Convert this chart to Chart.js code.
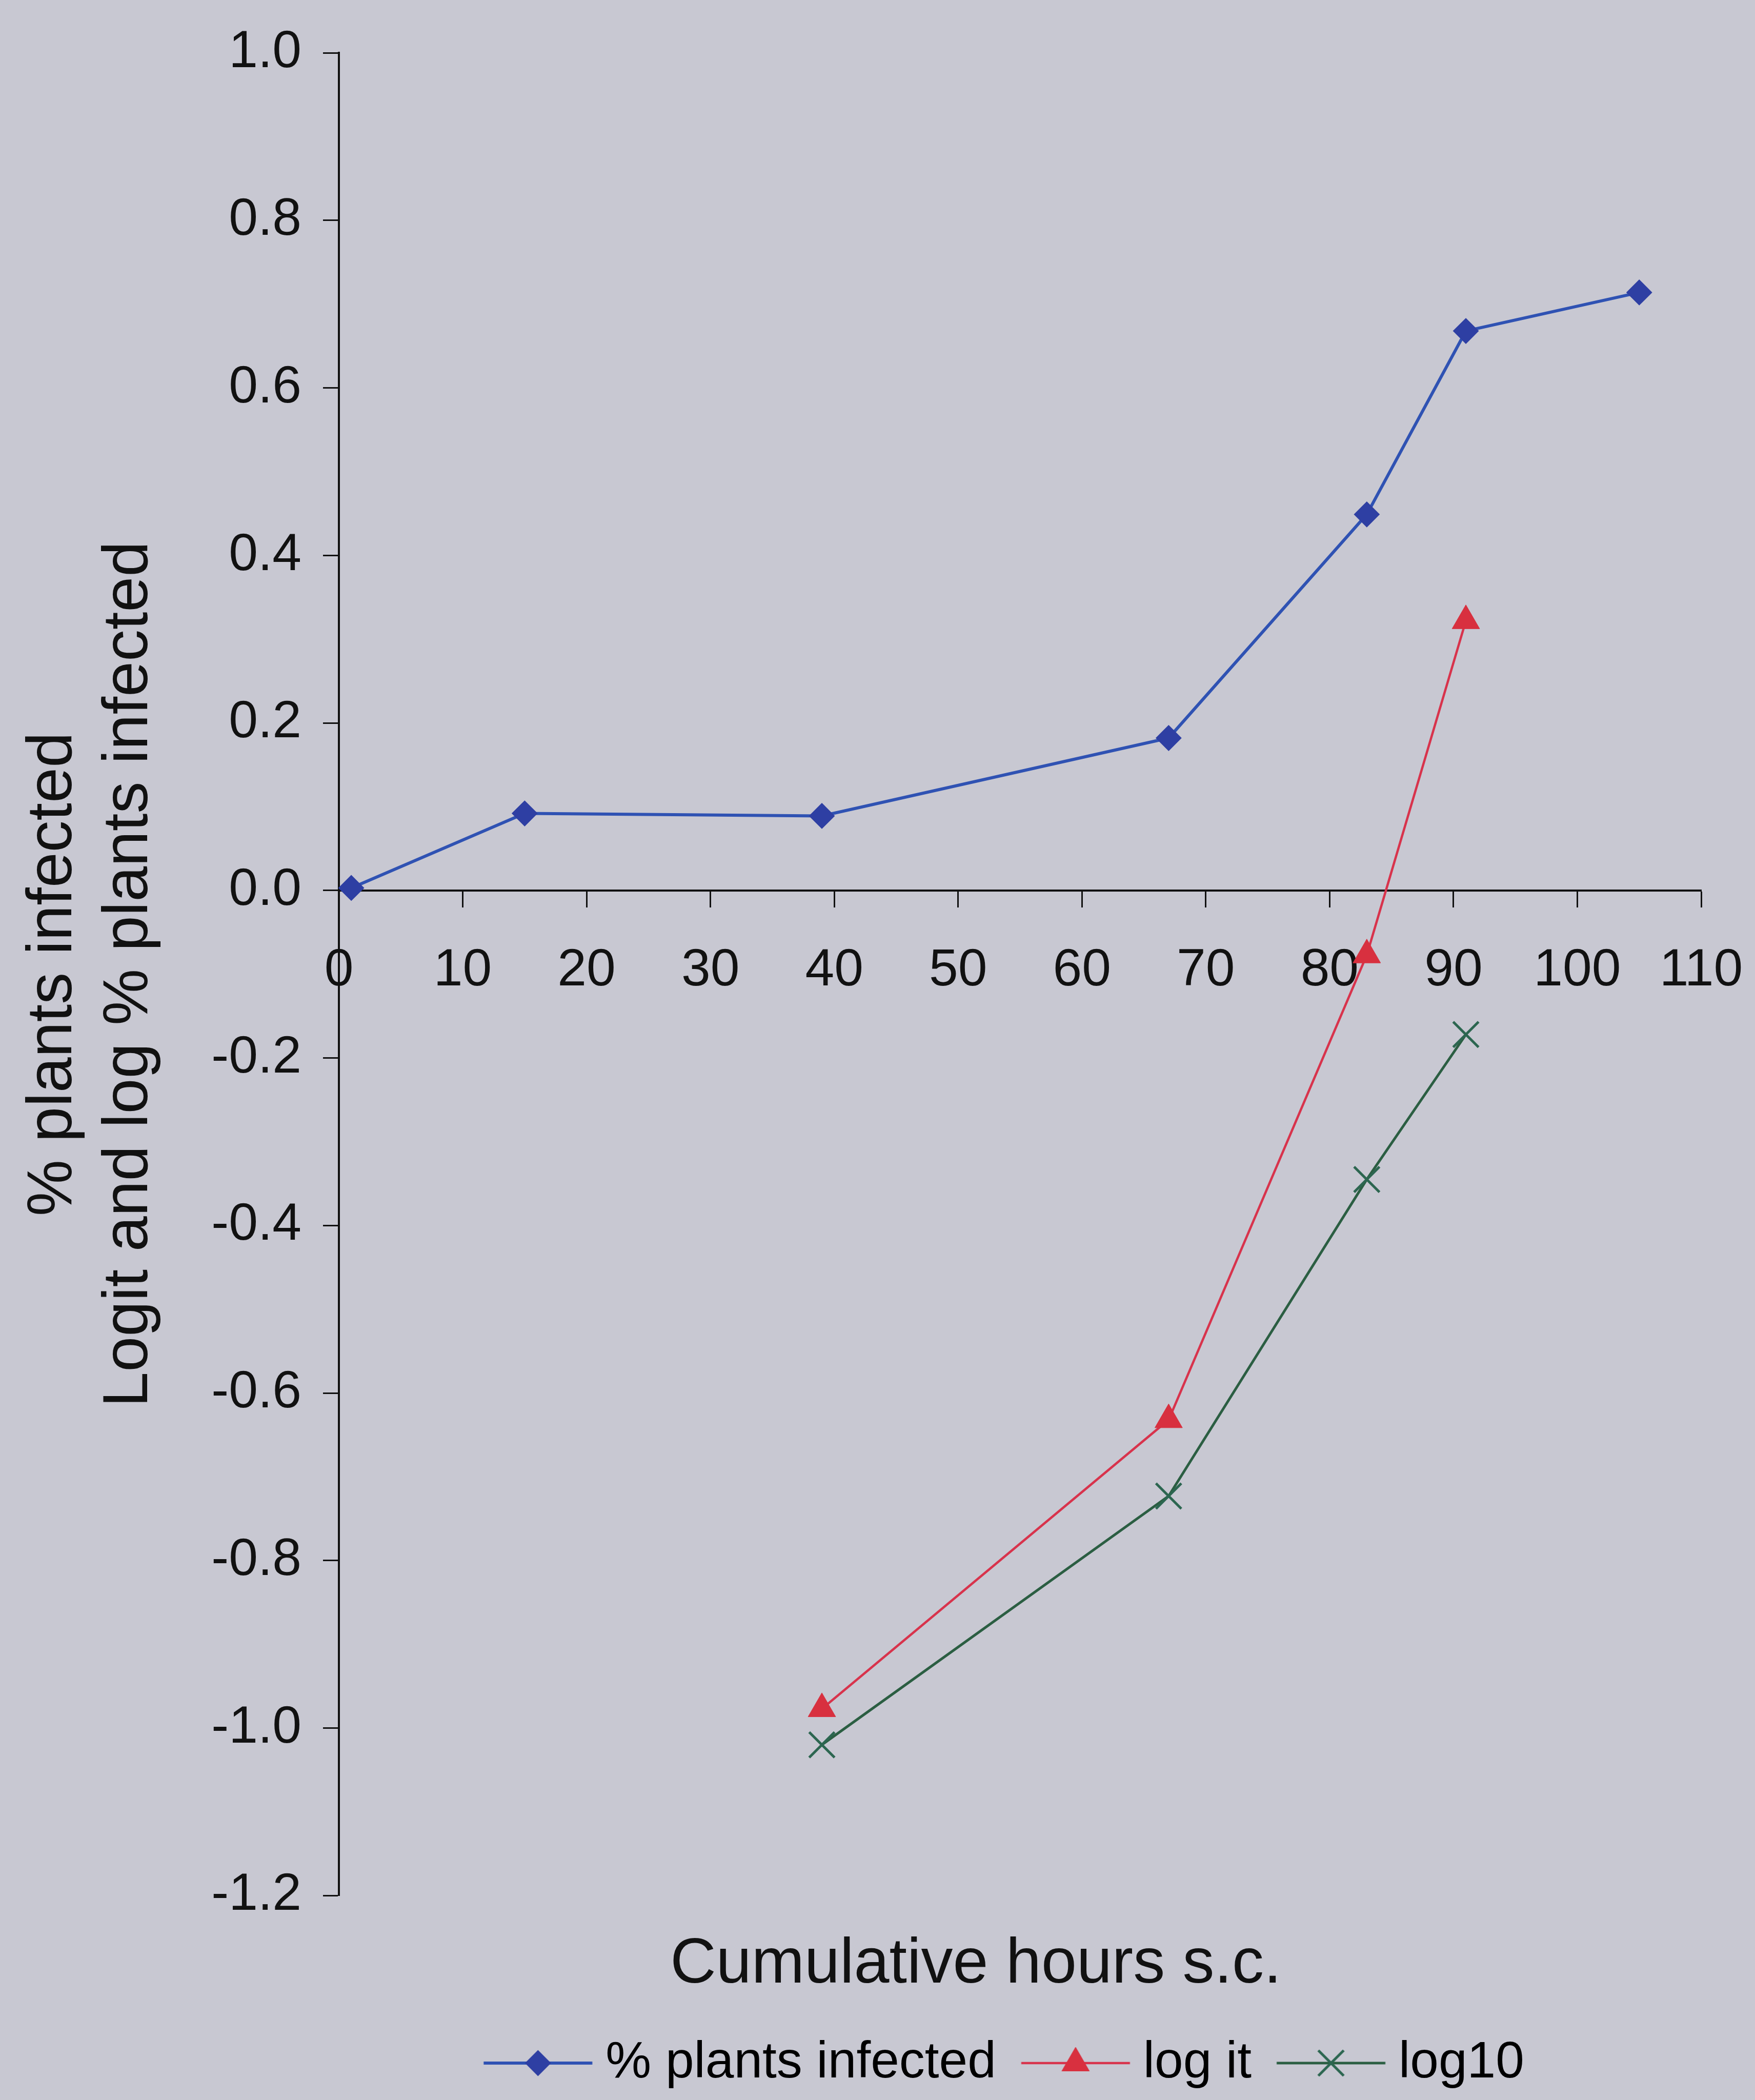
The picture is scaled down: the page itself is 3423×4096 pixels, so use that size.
<!DOCTYPE html>
<html>
<head>
<meta charset="utf-8">
<title>Cumulative hours s.c.</title>
<script src="https://cdn.jsdelivr.net/npm/chart.js@4.4.1/dist/chart.umd.min.js"></script>
<style>
  html, body { margin: 0; padding: 0; background: #c8c8d2; }
  #wrap { width: 3423px; height: 4096px; }
</style>
</head>
<body>
<div id="wrap"><canvas id="chart" width="3423" height="4096"></canvas></div>
<script>
'use strict';

// values
let hoursAll = [1, 15, 39, 67, 83, 91, 105];
let pctInfected = [0.003, 0.092, 0.089, 0.182, 0.449, 0.668, 0.714];
let hoursLog = [39, 67, 83, 91];
let logitValues = [-0.977, -0.632, -0.077, 0.322];
let log10Values = [-1.020, -0.723, -0.345, -0.172];

let seriesNames = ['% plants infected', 'log it', 'log10'];
let xTickValues = [0, 10, 20, 30, 40, 50, 60, 70, 80, 90, 100, 110];
let yTickValues = [1.0, 0.8, 0.6, 0.4, 0.2, 0.0, -0.2, -0.4, -0.6, -0.8, -1.0, -1.2];

const FONT = '"Liberation Sans", Arial, sans-serif';
const BG = '#c8c8d2';

function toPoints(xs, ys) {
  let pts = [];
  for (let i = 0; i < xs.length; i++) {
    pts.push({x: xs[i], y: ys[i]});
  }
  return pts;
}

let datasets = [
  {
    label: seriesNames[0],
    data: toPoints(hoursAll, pctInfected),
    showLine: true,
    borderColor: '#2f52b3',
    borderWidth: 6,
    pointStyle: 'rectRot',
    pointRadius: 24,
    pointBackgroundColor: '#2e3fa3',
    pointBorderColor: '#2e3fa3',
    pointBorderWidth: 2,
    clip: false
  },
  {
    label: seriesNames[1],
    data: toPoints(hoursLog, logitValues),
    showLine: true,
    borderColor: '#d8334c',
    borderWidth: 4.5,
    pointStyle: 'triangle',
    pointRadius: 31,
    pointBackgroundColor: '#d8303f',
    pointBorderColor: '#d8303f',
    pointBorderWidth: 1,
    clip: false
  },
  {
    label: seriesNames[2],
    data: toPoints(hoursLog, log10Values),
    showLine: true,
    borderColor: '#2b5e42',
    borderWidth: 5,
    pointStyle: 'crossRot',
    pointRadius: 35,
    pointBackgroundColor: '#2c6650',
    pointBorderColor: '#2c6650',
    pointBorderWidth: 5,
    clip: false
  }
];

// little picture of line + marker for each legend entry
function legendImage(ds) {
  let c = document.createElement('canvas');
  c.width = 260;
  c.height = 90;
  let g = c.getContext('2d');
  g.strokeStyle = ds.borderColor;
  g.lineWidth = ds.borderWidth;
  g.beginPath();
  g.moveTo(4.5, 45);
  g.lineTo(216.5, 45);
  g.stroke();
  g.fillStyle = ds.pointBackgroundColor;
  g.strokeStyle = ds.pointBorderColor;
  g.lineWidth = ds.pointBorderWidth;
  Chart.helpers.drawPoint(g, {
    pointStyle: ds.pointStyle,
    radius: ds.pointRadius,
    borderWidth: ds.pointBorderWidth,
    rotation: 0
  }, 110.5, 45);
  return c;
}

let legendImages = datasets.map(legendImage);

const bgPlugin = {
  id: 'bg',
  beforeDraw(chart) {
    const c = chart.ctx;
    c.save();
    c.fillStyle = BG;
    c.fillRect(0, 0, chart.width, chart.height);
    c.restore();
  }
};

const tickFont = {family: FONT, size: 102};
const axisGrid = {
  display: true,
  drawOnChartArea: false,
  drawTicks: true,
  tickLength: 31,
  tickWidth: 3,
  tickColor: '#111'
};
const axisBorder = {display: true, color: '#111', width: 4};

const ctx = document.getElementById('chart');
new Chart(ctx, {
  type: 'scatter',
  data: {datasets: datasets},
  options: {
    responsive: false,
    animation: false,
    devicePixelRatio: 1,
    layout: {padding: {top: 92, right: 105, bottom: 12, left: 0}},
    scales: {
      x: {
        type: 'linear',
        min: 0,
        max: 110,
        position: {y: 0},
        afterBuildTicks: (scale) => {
          scale.ticks = xTickValues.map(v => ({value: v}));
        },
        afterFit: (scale) => {
          // labels may hang past the plot edge, like the original
          scale.paddingLeft = 0;
          scale.paddingRight = 0;
        },
        ticks: {
          font: tickFont,
          color: '#111',
          padding: 65,
          maxRotation: 0,
          autoSkip: false,
          callback: (v) => String(v)
        },
        grid: axisGrid,
        border: axisBorder
      },
      y: {
        type: 'linear',
        min: -1.2,
        max: 1.0,
        afterBuildTicks: (scale) => {
          scale.ticks = yTickValues.map(v => ({value: v}));
        },
        afterFit: (scale) => {
          scale.width = 661;
        },
        ticks: {
          font: tickFont,
          color: '#111',
          padding: 42,
          autoSkip: false,
          callback: (v) => Number(v).toFixed(1)
        },
        grid: axisGrid,
        border: axisBorder,
        title: {
          display: true,
          text: ['% plants infected', 'Logit and log % plants infected'],
          font: {family: FONT, size: 124, lineHeight: 1.2},
          color: '#111',
          padding: {top: 30, bottom: 0}
        }
      }
    },
    plugins: {
      legend: {
        display: true,
        position: 'bottom',
        fullSize: false,
        labels: {
          usePointStyle: true,
          pointStyleWidth: 125,
          padding: 112,
          color: '#111',
          font: {family: FONT, size: 100},
          generateLabels: (chart) => chart.data.datasets.map((ds, i) => ({
            text: ds.label,
            pointStyle: legendImages[i],
            fillStyle: ds.borderColor,
            strokeStyle: ds.borderColor,
            lineWidth: 0,
            hidden: false,
            datasetIndex: i
          }))
        }
      },
      title: {
        display: true,
        position: 'bottom',
        fullSize: false,
        weight: 500,
        text: 'Cumulative hours s.c.     ',
        color: '#111',
        font: {family: FONT, size: 124, weight: 'normal', lineHeight: 1.2},
        padding: {top: 61, bottom: -45}
      },
      tooltip: {enabled: false}
    }
  },
  plugins: [bgPlugin]
});
</script>
</body>
</html>
